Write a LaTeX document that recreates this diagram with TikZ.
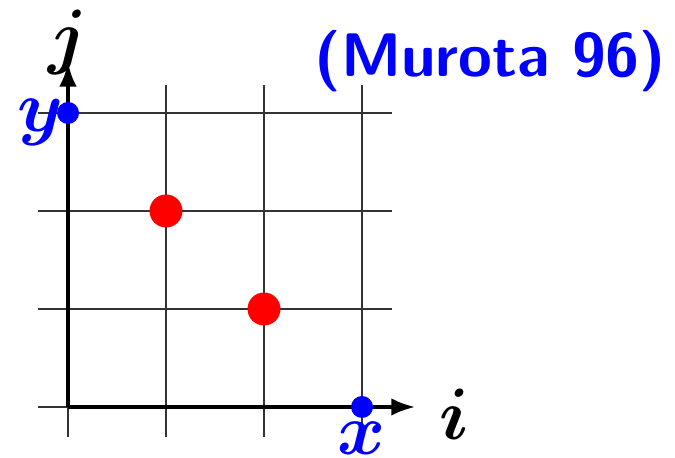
\documentclass[tikz,border=0pt]{standalone}
\usepackage{bm}
\usetikzlibrary{arrows.meta}
\begin{document}
\begin{tikzpicture}[x=0.98cm,y=0.98cm,
  gridline/.style={line width=0.6pt,black!80},
  axis/.style={line width=1.3pt,black,-{Latex[length=7pt,width=5pt]}},
  bdot/.style={circle,fill=blue,inner sep=0pt,minimum size=0.22cm},
  rdot/.style={circle,fill=red,inner sep=0pt,minimum size=0.33cm},
  lbl/.style={font=\fontsize{20}{24}\selectfont,inner sep=0pt}]
\useasboundingbox (-0.694,-0.520) rectangle (6.194,4.153);
\foreach \k in {0,1,2,3} {
  \draw[gridline] (-0.306,\k) -- (3.306,\k);
  \draw[gridline] (\k,-0.306) -- (\k,3.286);
}
\coordinate (O) at (0,0);
\coordinate (xe) at (3.55,0);
\coordinate (ye) at (0,3.52);
\draw[axis] (O) -- (xe);
\draw[axis] (O) -- (ye);
\node[bdot] (ydot) at (0,3) {};
\node[bdot] (xdot) at (3,0) {};
\node[rdot] (r1) at (1,2) {};
\node[rdot] (r2) at (2,1) {};
\node[lbl] (jl) at (0,3.72) {$\bm{j}$};
\node[lbl] (il) at (3.94,-0.07) {$\bm{i}$};
\node[lbl,text=blue] (yl) at (-0.28,2.9) {$\bm{y}$};
\node[lbl,text=blue] (xl) at (3,-0.32) {$\bm{x}$};
\node[text=blue,font=\fontsize{17.5}{20}\sffamily\bfseries\selectfont] (mur) at (4.31,3.53) {(Murota 96)};
\end{tikzpicture}
\end{document}
